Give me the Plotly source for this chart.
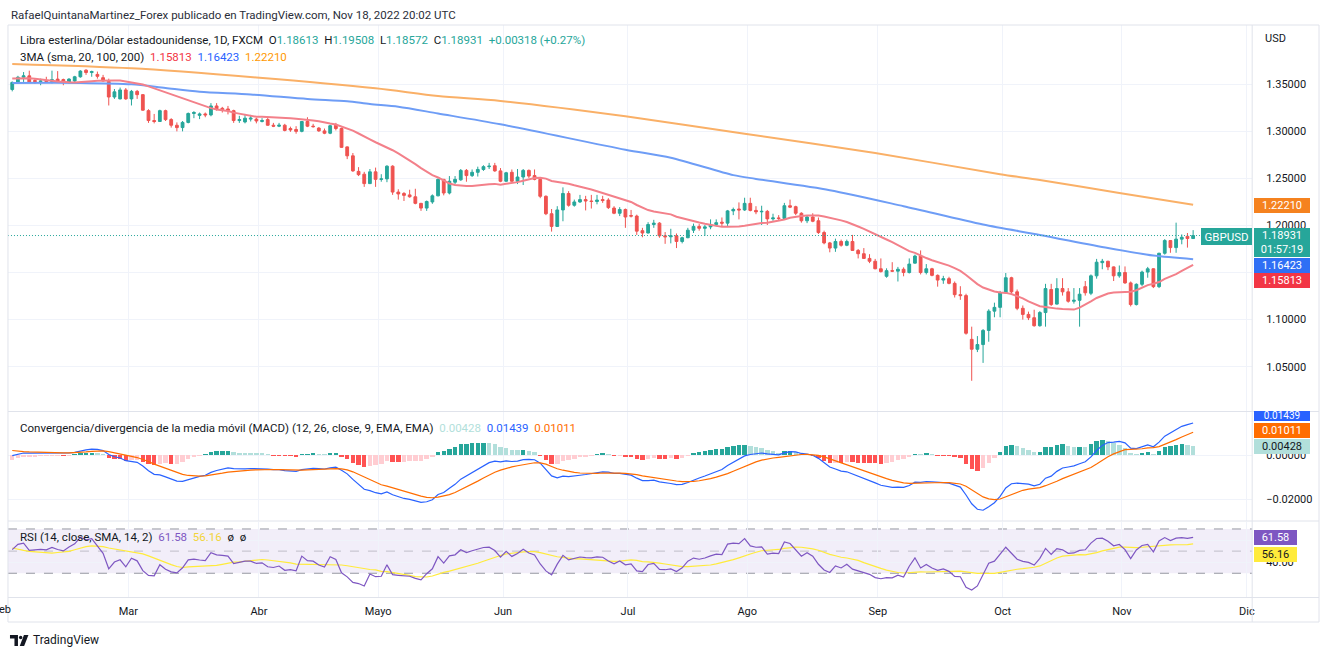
import numpy as np
import pandas as pd
import plotly.graph_objects as go

W, H = 1332, 657


def fx(p):
    return p / W


def fy(p):
    return 1 - p / H


# ---------------- DATA (GBPUSD daily, FXCM) ----------------
open_ = [
    # Feb
    1.3445, 1.3520, 1.3575, 1.3590, 1.3540, 1.3530, 1.3540, 1.3530, 1.3555, 1.3550, 1.3525, 1.3535, 1.3580, 1.3650, 1.3625, 1.3605, 1.3570, 1.3530, 1.3365, 1.3345,
    # Mar
    1.3440, 1.3345, 1.3425, 1.3390, 1.3220, 1.3115, 1.3105, 1.3220, 1.3125, 1.3065, 1.3040, 1.3095, 1.3190, 1.3170, 1.3185, 1.3175, 1.3270, 1.3245, 1.3238, 1.3220, 1.3115, 1.3100, 1.3130,
    # Apr
    1.3130, 1.3105, 1.3125, 1.3065, 1.3055, 1.3065, 1.3030, 1.3020, 1.3000, 1.3105, 1.3055, 1.3035, 1.3005, 1.2980, 1.3065, 1.3030, 1.2835, 1.2740, 1.2575, 1.2545, 1.2445,
    # May
    1.2570, 1.2490, 1.2495, 1.2630, 1.2355, 1.2340, 1.2325, 1.2305, 1.2235, 1.2185, 1.2250, 1.2315, 1.2490, 1.2345, 1.2460, 1.2485, 1.2585, 1.2530, 1.2565, 1.2595, 1.2625, 1.2635,
    # Jun
    1.2580, 1.2470, 1.2565, 1.2470, 1.2515, 1.2585, 1.2530, 1.2490, 1.2310, 1.2125, 1.1990, 1.2165, 1.2340, 1.2215, 1.2250, 1.2275, 1.2260, 1.2255, 1.2275, 1.2270, 1.2185, 1.2130,
    # Jul
    1.2170, 1.2105, 1.2100, 1.1945, 1.1920, 1.2010, 1.2025, 1.1890, 1.1880, 1.1890, 1.1830, 1.1870, 1.1950, 1.1990, 1.1970, 1.1985, 1.2010, 1.2035, 1.2025, 1.2155, 1.2175,
    # Aug
    1.2165, 1.2235, 1.2160, 1.2145, 1.2150, 1.2070, 1.2080, 1.2075, 1.2210, 1.2200, 1.2130, 1.2050, 1.2090, 1.2050, 1.1925, 1.1815, 1.1760, 1.1830, 1.1790, 1.1830, 1.1735, 1.1700, 1.1650,
    # Sep
    1.1620, 1.1540, 1.1460, 1.1520, 1.1515, 1.1535, 1.1500, 1.1600, 1.1675, 1.1500, 1.1540, 1.1470, 1.1420, 1.1435, 1.1385, 1.1265, 1.1255, 1.0790, 1.0685, 1.0735, 1.0885, 1.1090,
    # Oct
    1.1130, 1.1285, 1.1445, 1.1295, 1.1120, 1.1055, 1.1020, 1.0935, 1.1075, 1.1320, 1.1165, 1.1330, 1.1295, 1.1195, 1.1205, 1.1350, 1.1280, 1.1465, 1.1605, 1.1620, 1.1560,
    # Nov
    1.1465, 1.1500, 1.1390, 1.1160, 1.1375, 1.1505, 1.1540, 1.1350, 1.1705, 1.1840, 1.1765, 1.1855, 1.1885, 1.18613,
]
high = [
    1.3530, 1.3590, 1.3630, 1.3645, 1.3560, 1.3560, 1.3580, 1.3645, 1.3640, 1.3560, 1.3565, 1.3590, 1.3650, 1.3660, 1.3645, 1.3635, 1.3600, 1.3560, 1.3450, 1.3465,
    1.3460, 1.3440, 1.3440, 1.3395, 1.3235, 1.3185, 1.3230, 1.3230, 1.3140, 1.3095, 1.3110, 1.3200, 1.3215, 1.3200, 1.3200, 1.3300, 1.3300, 1.3260, 1.3270, 1.3230, 1.3165, 1.3185, 1.3175,
    1.3145, 1.3140, 1.3150, 1.3090, 1.3090, 1.3080, 1.3050, 1.3055, 1.3110, 1.3150, 1.3080, 1.3045, 1.3030, 1.3070, 1.3090, 1.3040, 1.2840, 1.2770, 1.2620, 1.2570, 1.2600,
    1.2615, 1.2545, 1.2640, 1.2640, 1.2385, 1.2355, 1.2380, 1.2390, 1.2240, 1.2265, 1.2330, 1.2500, 1.2495, 1.2525, 1.2525, 1.2600, 1.2600, 1.2595, 1.2625, 1.2640, 1.2665, 1.2665,
    1.2610, 1.2570, 1.2595, 1.2600, 1.2600, 1.2595, 1.2595, 1.2505, 1.2320, 1.2175, 1.2205, 1.2405, 1.2365, 1.2275, 1.2325, 1.2315, 1.2325, 1.2325, 1.2315, 1.2290, 1.2205, 1.2195,
    1.2180, 1.2165, 1.2115, 1.1975, 1.2035, 1.2060, 1.2035, 1.1930, 1.1965, 1.1915, 1.1880, 1.1975, 1.2020, 1.2015, 1.2005, 1.2065, 1.2065, 1.2085, 1.2165, 1.2190, 1.2245,
    1.2295, 1.2295, 1.2205, 1.2210, 1.2165, 1.2125, 1.2110, 1.2240, 1.2275, 1.2210, 1.2140, 1.2105, 1.2130, 1.2085, 1.1945, 1.1825, 1.1860, 1.1850, 1.1850, 1.1900, 1.1750, 1.1760, 1.1695,
    1.1645, 1.1650, 1.1545, 1.1610, 1.1560, 1.1555, 1.1650, 1.1690, 1.1735, 1.1590, 1.1550, 1.1480, 1.1465, 1.1455, 1.1405, 1.1355, 1.1275, 1.0925, 1.0825, 1.0900, 1.1110, 1.1180,
    1.1305, 1.1495, 1.1455, 1.1320, 1.1150, 1.1085, 1.1105, 1.1090, 1.1380, 1.1380, 1.1440, 1.1440, 1.1335, 1.1335, 1.1335, 1.1410, 1.1480, 1.1645, 1.1645, 1.1625, 1.1565,
    1.1575, 1.1565, 1.1405, 1.1385, 1.1520, 1.1560, 1.1545, 1.1710, 1.1855, 1.1845, 1.2030, 1.1905, 1.1920, 1.19508,
]
low = [
    1.3425, 1.3505, 1.3525, 1.3515, 1.3505, 1.3490, 1.3520, 1.3510, 1.3515, 1.3490, 1.3505, 1.3525, 1.3570, 1.3600, 1.3580, 1.3560, 1.3530, 1.3275, 1.3345, 1.3340,
    1.3335, 1.3275, 1.3345, 1.3220, 1.3090, 1.3085, 1.3100, 1.3110, 1.3040, 1.3000, 1.3000, 1.3085, 1.3140, 1.3130, 1.3150, 1.3160, 1.3220, 1.3200, 1.3180, 1.3090, 1.3090, 1.3085, 1.3105,
    1.3085, 1.3095, 1.3060, 1.3045, 1.3045, 1.3000, 1.2995, 1.2975, 1.2990, 1.3045, 1.3040, 1.2995, 1.2970, 1.2970, 1.3010, 1.2825, 1.2705, 1.2570, 1.2525, 1.2410, 1.2440,
    1.2410, 1.2465, 1.2460, 1.2325, 1.2275, 1.2260, 1.2295, 1.2225, 1.2155, 1.2155, 1.2230, 1.2310, 1.2320, 1.2330, 1.2440, 1.2475, 1.2465, 1.2515, 1.2520, 1.2580, 1.2600, 1.2570,
    1.2460, 1.2465, 1.2465, 1.2440, 1.2430, 1.2505, 1.2480, 1.2290, 1.2110, 1.1935, 1.1985, 1.2045, 1.2200, 1.2200, 1.2240, 1.2160, 1.2180, 1.2225, 1.2240, 1.2175, 1.2120, 1.2100,
    1.1975, 1.2085, 1.1900, 1.1875, 1.1915, 1.1975, 1.1870, 1.1805, 1.1810, 1.1760, 1.1810, 1.1865, 1.1920, 1.1945, 1.1890, 1.1960, 1.1990, 1.1985, 1.1985, 1.2110, 1.2065,
    1.2155, 1.2150, 1.2120, 1.2005, 1.2005, 1.2050, 1.2050, 1.2060, 1.2185, 1.2110, 1.2030, 1.2025, 1.2035, 1.1910, 1.1800, 1.1715, 1.1720, 1.1775, 1.1780, 1.1730, 1.1650, 1.1645, 1.1600,
    1.1535, 1.1500, 1.1445, 1.1505, 1.1405, 1.1460, 1.1490, 1.1595, 1.1480, 1.1480, 1.1460, 1.1350, 1.1380, 1.1375, 1.1235, 1.1210, 1.0840, 1.0350, 1.0655, 1.0540, 1.0765, 1.1025,
    1.1025, 1.1280, 1.1265, 1.1100, 1.1000, 1.0995, 1.0925, 1.0925, 1.0925, 1.1145, 1.1160, 1.1255, 1.1180, 1.1170, 1.0925, 1.1255, 1.1260, 1.1435, 1.1535, 1.1525, 1.1410,
    1.1445, 1.1380, 1.1140, 1.1150, 1.1355, 1.1445, 1.1335, 1.1335, 1.1690, 1.1710, 1.1710, 1.1800, 1.1765, 1.18572,
]
close = [
    1.3520, 1.3575, 1.3590, 1.3525, 1.3530, 1.3535, 1.3530, 1.3550, 1.3535, 1.3525, 1.3555, 1.3580, 1.3640, 1.3625, 1.3635, 1.3585, 1.3535, 1.3365, 1.3420, 1.3440,
    1.3345, 1.3425, 1.3390, 1.3225, 1.3115, 1.3105, 1.3220, 1.3125, 1.3065, 1.3040, 1.3095, 1.3190, 1.3200, 1.3185, 1.3175, 1.3270, 1.3240, 1.3232, 1.3222, 1.3115, 1.3125, 1.3140, 1.3140,
    1.3110, 1.3115, 1.3065, 1.3055, 1.3065, 1.3010, 1.3015, 1.3000, 1.3105, 1.3055, 1.3050, 1.3005, 1.2980, 1.3060, 1.3030, 1.2830, 1.2740, 1.2580, 1.2540, 1.2445, 1.2570,
    1.2490, 1.2495, 1.2630, 1.2355, 1.2335, 1.2320, 1.2305, 1.2235, 1.2185, 1.2255, 1.2315, 1.2490, 1.2345, 1.2470, 1.2490, 1.2585, 1.2530, 1.2565, 1.2595, 1.2625, 1.2630, 1.2580,
    1.2470, 1.2560, 1.2470, 1.2515, 1.2585, 1.2525, 1.2490, 1.2310, 1.2125, 1.1990, 1.2165, 1.2340, 1.2215, 1.2250, 1.2275, 1.2260, 1.2255, 1.2270, 1.2265, 1.2190, 1.2130, 1.2170,
    1.2090, 1.2100, 1.1940, 1.1920, 1.2010, 1.2025, 1.1890, 1.1880, 1.1890, 1.1830, 1.1870, 1.1950, 1.1990, 1.1970, 1.1985, 1.2010, 1.2030, 1.2025, 1.2155, 1.2170, 1.2165,
    1.2235, 1.2160, 1.2145, 1.2150, 1.2070, 1.2080, 1.2075, 1.2210, 1.2195, 1.2130, 1.2050, 1.2090, 1.2045, 1.1925, 1.1815, 1.1760, 1.1830, 1.1790, 1.1830, 1.1735, 1.1700, 1.1650, 1.1620,
    1.1540, 1.1510, 1.1520, 1.1515, 1.1535, 1.1500, 1.1590, 1.1675, 1.1500, 1.1540, 1.1470, 1.1420, 1.1435, 1.1385, 1.1265, 1.1255, 1.0855, 1.0685, 1.0735, 1.0885, 1.1090, 1.1130,
    1.1285, 1.1445, 1.1295, 1.1120, 1.1055, 1.1020, 1.0935, 1.1075, 1.1330, 1.1160, 1.1330, 1.1295, 1.1195, 1.1205, 1.1270, 1.1285, 1.1465, 1.1610, 1.1620, 1.1560, 1.1465,
    1.1500, 1.1390, 1.1160, 1.1375, 1.1505, 1.1540, 1.1350, 1.1705, 1.1840, 1.1765, 1.1855, 1.1875, 1.18613, 1.18931,
]

# closes before the visible window (Nov 2021 - Jan 2022), needed to seed the indicators
warmup_close = [
    1.3640, 1.3610, 1.3640, 1.3500, 1.3500, 1.3560, 1.3550, 1.3400, 1.3400, 1.3415, 1.3425, 1.3470, 1.3470, 1.3500, 1.3440, 1.3410, 1.3360, 1.3340, 1.3320, 1.3330, 1.3315, 1.3295,
    1.3275, 1.3300, 1.3265, 1.3270, 1.3245, 1.3210, 1.3230, 1.3270, 1.3215, 1.3235, 1.3290, 1.3325, 1.3235, 1.3215, 1.3250, 1.3345, 1.3415, 1.3405, 1.3440, 1.3430, 1.3485, 1.3500, 1.3530,
    1.3485, 1.3535, 1.3545, 1.3535, 1.3590, 1.3595, 1.3640, 1.3710, 1.3715, 1.3680, 1.3645, 1.3600, 1.3615, 1.3610, 1.3555, 1.3485, 1.3500, 1.3460, 1.3385, 1.3410, 1.3445,
]

# long moving averages
sma100_dates = ["2022-02-01", "2022-02-17", "2022-03-02", "2022-03-10", "2022-03-18", "2022-03-31", "2022-04-14",
                "2022-04-25", "2022-04-29", "2022-05-06", "2022-05-17", "2022-06-01", "2022-07-01", "2022-07-13",
                "2022-07-28", "2022-08-03", "2022-08-22", "2022-09-08", "2022-09-28", "2022-10-12", "2022-10-28",
                "2022-11-09", "2022-11-18"]
sma100_vals = [1.3515, 1.3515, 1.3500, 1.3460, 1.3421, 1.3392, 1.3344, 1.3320, 1.3290, 1.3262, 1.3190, 1.3075,
               1.2805, 1.2720, 1.2535, 1.2495, 1.2375, 1.2205, 1.2010, 1.1900, 1.1760, 1.1680, 1.16423]
sma200_dates = ["2022-02-01", "2022-03-02", "2022-04-01", "2022-05-02", "2022-05-17", "2022-06-01", "2022-07-01",
                "2022-08-01", "2022-09-01", "2022-10-03", "2022-10-12", "2022-11-01", "2022-11-18"]
sma200_vals = [1.3716, 1.3670, 1.3572, 1.3457, 1.3375, 1.3323, 1.3160, 1.2975, 1.2770, 1.2545, 1.2483, 1.2345, 1.2221]

month_starts = ["2022-03-01", "2022-04-01", "2022-05-02", "2022-06-01", "2022-07-01", "2022-08-01",
                "2022-09-01", "2022-10-03", "2022-11-01", "2022-12-01"]
month_labels = ["Mar", "Abr", "Mayo", "Jun", "Jul", "Ago", "Sep", "Oct", "Nov", "Dic"]

price_ticks = [1.05, 1.10, 1.15, 1.20, 1.25, 1.30, 1.35]
price_tick_text = ["1.05000", "1.10000", "", "1.20000", "1.25000", "1.30000", "1.35000"]  # 1.15 hidden under tags

# ---------------- derived series ----------------
dates = pd.bdate_range("2022-02-01", "2022-11-18")
assert len(dates) == len(open_) == len(high) == len(low) == len(close) == 209
xs = [d.strftime("%Y-%m-%d 12:00") for d in dates]

nw = len(warmup_close)
s = pd.Series(warmup_close + close, dtype=float)
sma20 = s.rolling(20).mean().iloc[nw:].to_numpy()
macd_all = s.ewm(span=12, adjust=False).mean() - s.ewm(span=26, adjust=False).mean()
sig_all = macd_all.ewm(span=9, adjust=False).mean()
hist_all = (macd_all - sig_all).to_numpy()
delta = s.diff()
ag = delta.clip(lower=0).ewm(alpha=1 / 14, adjust=False).mean()
al = (-delta).clip(lower=0).ewm(alpha=1 / 14, adjust=False).mean()
rsi_all = 100 - 100 / (1 + ag / al)
rsi_ma_all = rsi_all.rolling(14).mean()

macd = macd_all.iloc[nw:].to_numpy()
sig = sig_all.iloc[nw:].to_numpy()
hist = hist_all[nw:]
hist_prev = hist_all[nw - 1:-1]
hist_colors = []
for hv, pv in zip(hist, hist_prev):
    if hv >= 0:
        hist_colors.append("#26A69A" if hv > pv else "#B2DFDB")
    else:
        hist_colors.append("#FF5252" if hv < pv else "#FFCDD2")
rsi = rsi_all.iloc[nw:].to_numpy()
rsi_ma = rsi_ma_all.iloc[nw:].to_numpy()

# ---------------- figure ----------------
GRID = "#F0F3FA"
BORDER = "#E0E3EB"
TXT = "#131722"
FONT = "Roboto, 'Open Sans', sans-serif"

fig = go.Figure()

fig.add_trace(go.Scatter(x=[d + " 12:00" for d in sma200_dates], y=sma200_vals, mode="lines",
                         line=dict(color="#FAB067", width=2, shape="spline", smoothing=0.8),
                         xaxis="x", yaxis="y", hoverinfo="skip"))
fig.add_trace(go.Scatter(x=[d + " 12:00" for d in sma100_dates], y=sma100_vals, mode="lines",
                         line=dict(color="#6E9DF6", width=2, shape="spline", smoothing=0.8),
                         xaxis="x", yaxis="y", hoverinfo="skip"))
fig.add_trace(go.Scatter(x=xs, y=sma20, mode="lines", line=dict(color="#F3808A", width=2),
                         xaxis="x", yaxis="y", hoverinfo="skip"))
fig.add_trace(go.Candlestick(
    x=xs, open=open_, high=high, low=low, close=close,
    increasing=dict(line=dict(color="#26A69A", width=1), fillcolor="#26A69A"),
    decreasing=dict(line=dict(color="#EF5350", width=1), fillcolor="#EF5350"),
    whiskerwidth=0, xaxis="x", yaxis="y", hoverinfo="skip"))

# MACD pane
fig.add_trace(go.Bar(x=xs, y=hist, marker=dict(color=hist_colors, line=dict(width=0)),
                     width=0.78 * 86400000, xaxis="x2", yaxis="y2", hoverinfo="skip"))
fig.add_trace(go.Scatter(x=xs, y=macd, mode="lines", line=dict(color="#2962FF", width=1.2),
                         xaxis="x2", yaxis="y2", hoverinfo="skip"))
fig.add_trace(go.Scatter(x=xs, y=sig, mode="lines", line=dict(color="#FF6D00", width=1.2),
                         xaxis="x2", yaxis="y2", hoverinfo="skip"))

# RSI pane
fig.add_trace(go.Scatter(x=xs, y=rsi_ma, mode="lines", line=dict(color="#FFEB3B", width=1.2),
                         xaxis="x3", yaxis="y3", hoverinfo="skip"))
fig.add_trace(go.Scatter(x=xs, y=rsi, mode="lines", line=dict(color="#7E57C2", width=1.2),
                         xaxis="x3", yaxis="y3", hoverinfo="skip"))

tickvals = [d + " 23:00" for d in month_starts]
common_x = dict(type="date", range=["2022-01-31 18:00", "2022-12-02 21:36"],
                rangebreaks=[dict(bounds=["sat", "mon"])], domain=[fx(8), fx(1255)],
                showgrid=True, gridcolor=GRID, gridwidth=1, tickmode="array",
                tickvals=tickvals, ticktext=month_labels, zeroline=False, showline=False,
                ticks="", fixedrange=True)
common_y = dict(side="right", showgrid=True, gridcolor=GRID, gridwidth=1, zeroline=False,
                showline=False, ticks="", ticklabelstandoff=13, fixedrange=True,
                tickfont=dict(size=11, color=TXT, family=FONT))

fig.update_layout(
    width=W, height=H, margin=dict(l=0, r=0, t=0, b=0),
    paper_bgcolor="white", plot_bgcolor="white", showlegend=False, hovermode=False,
    font=dict(family=FONT, size=11, color=TXT), bargap=0,
    xaxis=dict(common_x, anchor="y", showticklabels=False, rangeslider=dict(visible=False)),
    xaxis2=dict(common_x, anchor="y2", showticklabels=False),
    xaxis3=dict(common_x, anchor="y3", showticklabels=True,
                tickfont=dict(size=11, color=TXT, family=FONT), ticklabelstandoff=5),
    yaxis=dict(common_y, anchor="x", domain=[fy(411), fy(25)], range=[1.0029, 1.4130],
               tickmode="array", tickvals=price_ticks, ticktext=price_tick_text),
    yaxis2=dict(common_y, anchor="x2", domain=[fy(520.7), fy(412)], range=[-0.02966, 0.01941],
                tickmode="array", tickvals=[-0.02, 0.0], ticktext=["\u22120.02000", "0.00000"]),
    yaxis3=dict(common_y, anchor="x3", domain=[fy(597.5), fy(522)], range=[8.1, 76.3],
                tickmode="array", tickvals=[40, 60], ticktext=["40.00", ""]),
)

# ---------------- shapes ----------------
shapes = []
# RSI band
shapes.append(dict(type="rect", xref="x3 domain", yref="y3", x0=0, x1=1, y0=30, y1=70,
                   fillcolor="rgba(126,87,194,0.10)", line=dict(width=0), layer="below"))
for lvl, col in [(70, "#9598A1"), (30, "#9598A1"), (50, "rgba(149,152,161,0.55)")]:
    shapes.append(dict(type="line", xref="x3 domain", yref="y3", x0=0, x1=1, y0=lvl, y1=lvl,
                       line=dict(color=col, width=1, dash="dash"), layer="below"))
# current price dotted line
shapes.append(dict(type="line", xref="x domain", yref="y", x0=0, x1=1, y0=1.18931, y1=1.18931,
                   line=dict(color="#26A69A", width=1, dash="1px,2px")))
# frame and separators
shapes.append(dict(type="rect", xref="paper", yref="paper", x0=fx(8), x1=fx(1322), y0=fy(622), y1=fy(25),
                   line=dict(color=BORDER, width=1)))
for yy in [411.5, 521, 597.5]:
    shapes.append(dict(type="line", xref="paper", yref="paper", x0=fx(8), x1=fx(1322), y0=fy(yy), y1=fy(yy),
                       line=dict(color=BORDER, width=1)))
shapes.append(dict(type="line", xref="paper", yref="paper", x0=fx(1255), x1=fx(1255), y0=fy(622), y1=fy(25),
                   line=dict(color=BORDER, width=1)))
# TradingView logo glyph
logo_t = "M {} {} L {} {} L {} {} L {} {} L {} {} L {} {} Z".format(
    fx(10), fy(635), fx(18), fy(635), fx(18), fy(646), fx(14.5), fy(646), fx(14.5), fy(638.5), fx(10), fy(638.5))
shapes.append(dict(type="path", xref="paper", yref="paper", path=logo_t, fillcolor="#131722", line=dict(width=0)))
shapes.append(dict(type="circle", xref="paper", yref="paper", x0=fx(19), x1=fx(22.4), y0=fy(639.2), y1=fy(635.8),
                   fillcolor="#131722", line=dict(width=0)))
logo_v = "M {} {} L {} {} L {} {} L {} {} Z".format(
    fx(24), fy(635), fx(28.5), fy(635), fx(24.2), fy(646), fx(19.8), fy(646))
shapes.append(dict(type="path", xref="paper", yref="paper", path=logo_v, fillcolor="#131722", line=dict(width=0)))
fig.update_layout(shapes=shapes)

# ---------------- annotations ----------------
NB = "\u00a0"
ann = []


def text_at(txt, x, y, size=11.5, color=TXT, anchor="left"):
    ann.append(dict(text=txt, xref="paper", yref="paper", x=fx(x), y=fy(y), xanchor=anchor,
                    yanchor="middle", showarrow=False, font=dict(size=size, color=color, family=FONT)))


def sp(txt, color):
    return f"<span style='color:{color}'>{txt}</span>"


text_at("RafaelQuintanaMartinez_Forex publicado en TradingView.com, Nov 18, 2022 20:02 UTC", 9, 15, color="#2A2E39")
T = "#26A69A"
text_at("Libra esterlina/Dólar estadounidense, 1D, FXCM" + NB * 2 +
        "O" + sp("1.18613", T) + NB * 2 + "H" + sp("1.19508", T) + NB * 2 +
        "L" + sp("1.18572", T) + NB * 2 + "C" + sp("1.18931", T) + NB * 2 + sp("+0.00318 (+0.27%)", T), 18, 40)
text_at("3MA (sma, 20, 100, 200)" + NB * 2 + sp("1.15813", "#F23645") + NB * 2 +
        sp("1.16423", "#2962FF") + NB * 2 + sp("1.22210", "#FF9800"), 18, 57)
text_at("Convergencia/divergencia de la media móvil (MACD) (12, 26, close, 9, EMA, EMA)" + NB * 2 +
        sp("0.00428", "#B2DFDB") + NB * 2 + sp("0.01439", "#2962FF") + NB * 2 + sp("0.01011", "#FF6D00"), 18, 428)
text_at("RSI (14, close, SMA, 14, 2)" + NB * 2 + sp("61.58", "#7E57C2") + NB * 2 +
        sp("56.16", "#F2D43A") + NB * 2 + "ø" + NB * 2 + "ø", 18, 537)
text_at("USD", 1266, 38, size=11)
text_at("Feb", 2, 609, size=11, anchor="center")
text_at("TradingView", 31, 640, size=12)


def tag(txt, yc, bg, fg="white", x_left=1256.5, w=56, h=14.5, size=11):
    ann.append(dict(text=txt, xref="paper", yref="paper", x=fx(x_left), y=fy(yc), xanchor="left",
                    yanchor="middle", showarrow=False, bgcolor=bg, borderpad=0, borderwidth=0,
                    width=w, height=h, align="center", font=dict(size=size, color=fg, family=FONT)))


tag("1.22210", 205.2, "#F5821F")
tag("1.18931<br>01:57:19", 242.8, "#26A69A", h=29)
tag("1.16423", 265.3, "#2F6FF5")
tag("1.15813", 280.3, "#F23645")
tag("GBPUSD", 236.5, "#26A69A", x_left=1204, w=51, h=17, size=11.5)
tag("0.01439", 416.0, "#2962FF", h=9.5, size=10)
tag("0.01011", 430.0, "#FF6D00")
tag("0.00428", 446.3, "#B2DFDB", fg="#131722")
tag("61.58", 537.5, "#7E57C2", w=43)
tag("56.16", 554.7, "#FFEB3B", fg="#131722", w=43)

fig.update_layout(annotations=ann)

fig.write_html("out.html", config={"displayModeBar": False},
               post_script="document.body.style.margin='0px';document.body.style.overflow='hidden';")
